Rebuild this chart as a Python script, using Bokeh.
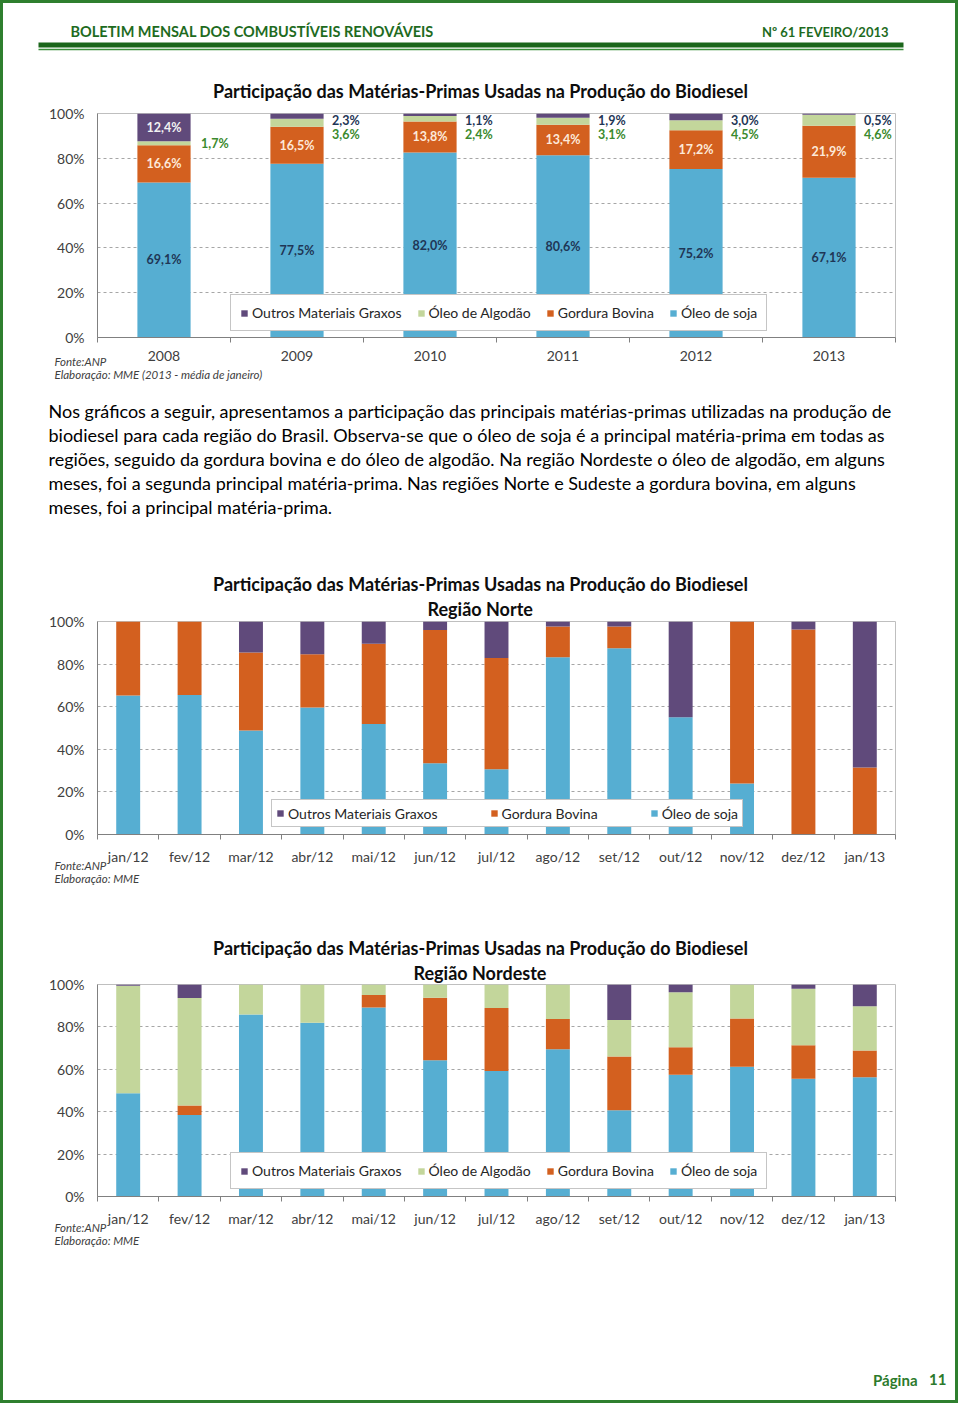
from bokeh.plotting import figure
from bokeh.layouts import column
from bokeh.models import Range1d, FixedTicker, Legend, LegendItem, ColumnDataSource, Title
from bokeh.core.properties import value
from bokeh.embed import file_html
from bokeh.resources import INLINE

FONT = "Lato"
W = 952
P0 = 3  # page x / y of the column content (inside the 3px border)

# ---------------- data ----------------
S_OUTROS = "Outros Materiais Graxos"
S_ALG = "Óleo de Algodão"
S_BOV = "Gordura Bovina"
S_SOJA = "Óleo de soja"

years = ["2008", "2009", "2010", "2011", "2012", "2013"]
br_soja = [69.1, 77.5, 82.0, 80.6, 75.2, 67.1]
br_bovina = [16.6, 16.5, 13.8, 13.4, 17.2, 21.9]
br_algodao = [1.7, 3.6, 2.4, 3.1, 4.5, 4.6]
br_outros = [12.4, 2.3, 1.1, 1.9, 3.0, 0.5]

months = ["jan/12", "fev/12", "mar/12", "abr/12", "mai/12", "jun/12", "jul/12",
          "ago/12", "set/12", "out/12", "nov/12", "dez/12", "jan/13"]
norte_soja = [65.2, 65.5, 48.8, 59.6, 51.9, 33.4, 30.6, 83.2, 87.5, 55.1, 24.0, 0.0, 0.0]
norte_bovina = [34.8, 34.5, 36.6, 25.0, 37.7, 62.6, 52.3, 14.5, 10.2, 0.0, 76.0, 96.3, 31.5]
norte_outros = [0.0, 0.0, 14.6, 15.4, 10.4, 4.0, 17.1, 2.3, 2.3, 44.9, 0.0, 3.7, 68.5]

ne_soja = [48.7, 38.5, 85.9, 82.0, 89.2, 64.3, 59.2, 69.5, 40.7, 57.4, 61.2, 55.6, 56.2]
ne_bovina = [0.0, 4.4, 0.0, 0.0, 5.9, 29.4, 29.7, 14.2, 25.3, 13.0, 22.8, 15.8, 12.7]
ne_algodao = [50.7, 50.7, 14.1, 18.0, 4.9, 6.3, 11.1, 16.3, 17.3, 26.0, 16.0, 26.6, 20.8]
ne_outros = [0.6, 6.4, 0.0, 0.0, 0.0, 0.0, 0.0, 0.0, 16.7, 3.6, 0.0, 2.0, 10.3]

TITLE = "Participação das Matérias-Primas Usadas na Produção do Biodiesel"
paragraph = [
    "Nos gráficos a seguir, apresentamos a participação das principais matérias-primas utilizadas na produção de",
    "biodiesel para cada região do Brasil. Observa-se que o óleo de soja é a principal matéria-prima em todas as",
    "regiões, seguido da gordura bovina e do óleo de algodão. Na região Nordeste o óleo de algodão, em alguns",
    "meses,  foi a segunda principal matéria-prima. Nas regiões Norte e Sudeste a gordura bovina, em alguns",
    "meses, foi a principal matéria-prima.",
]

# ---------------- styles ----------------
BLUE = "#56AED2"
ORANGE = "#D3601F"
PURPLE = "#604A7B"
LGREEN = "#C3D69B"
DKGREEN = "#1E6B1E"
TXT = "#404040"
NAVY = "#1F3656"
TITLE_SIZE = "18px"
COLORS = {S_OUTROS: PURPLE, S_ALG: LGREEN, S_BOV: ORANGE, S_SOJA: BLUE}


def fmt(v):
    return f"{v:.1f}".replace(".", ",") + "%"


def no_align(p):
    if "frame_align" in p.properties():
        p.frame_align = False
    return p


def blank_fig(top, bottom):
    h = bottom - top
    p = figure(width=W, height=h, x_range=Range1d(P0, P0 + W), y_range=Range1d(bottom, top),
               x_axis_type=None, y_axis_type=None, output_backend="svg",
               toolbar_location=None, min_border=0)
    p.outline_line_color = None
    p.grid.visible = False
    return no_align(p)


def title_text(p, x, y, text):
    p.text(x=[x], y=[y], text=[text], text_font=value(FONT), text_font_size=TITLE_SIZE,
           text_font_style="bold", text_color="#0D0D0D", text_align="center",
           text_baseline="middle")


def stacked_chart(cats, series, fig_top, fig_bottom, frame_top, frame_h, bar_w,
                  notes, leg_loc, leg_pad, leg_lh, leg_spacing, subtitle=None):
    n = len(cats)
    totals = [sum(s[1][i] for s in series) for i in range(n)]
    data = {"x": list(range(n))}
    keys = []
    for k, (name, vals) in enumerate(series):
        key = f"s{k}"
        data[key] = [100.0 * v / t for v, t in zip(vals, totals)]
        keys.append(key)
    src = ColumnDataSource(data)
    height = fig_bottom - fig_top
    top_b = frame_top - fig_top
    left_b = 97 - P0
    frame_w = 895 - 97
    p = figure(width=W, height=height, x_range=Range1d(-0.5, n - 0.5), y_range=Range1d(0, 100),
               output_backend="svg", toolbar_location=None,
               min_border_left=left_b, min_border_right=W - left_b - frame_w,
               min_border_top=top_b, min_border_bottom=height - top_b - frame_h)
    no_align(p)
    p.outline_line_color = "#BFBFBF"
    p.background_fill_color = "white"
    p.border_fill_color = "white"
    rs = p.vbar_stack(keys, x="x", width=bar_w, source=src,
                      fill_color=[COLORS[s[0]] for s in series], line_color=None)

    # axes
    xt = FixedTicker(ticks=list(range(n)), minor_ticks=[i - 0.5 for i in range(n + 1)])
    p.xaxis.ticker = xt
    p.xaxis.major_label_overrides = {i: c for i, c in enumerate(cats)}
    p.xaxis.major_tick_out = 0
    p.xaxis.major_tick_in = 0
    p.xaxis.minor_tick_out = 5
    p.xaxis.minor_tick_in = 0
    p.xaxis.minor_tick_line_color = "#808080"
    p.xaxis.axis_line_color = "#808080"
    p.xaxis.major_label_standoff = 8
    yt = FixedTicker(ticks=[0, 20, 40, 60, 80, 100])
    p.yaxis.ticker = yt
    p.ygrid.ticker = yt
    p.yaxis.major_label_overrides = {t: f"{t}%" for t in [0, 20, 40, 60, 80, 100]}
    p.yaxis.major_tick_out = 0
    p.yaxis.major_tick_in = 0
    p.yaxis.minor_tick_out = 0
    p.yaxis.minor_tick_in = 0
    p.yaxis.axis_line_color = "#808080"
    p.yaxis.major_label_standoff = 13
    for ax in (p.xaxis, p.yaxis):
        ax.major_label_text_font = FONT
        ax.major_label_text_font_size = "14px"
        ax.major_label_text_color = TXT
    p.xgrid.grid_line_color = None
    p.ygrid.grid_line_color = "#A6A6A6"
    p.ygrid.grid_line_dash = "3 3"

    # legend
    items = [LegendItem(label=s[0], renderers=[r]) for s, r in zip(series, rs)][::-1]
    leg = Legend(items=items, orientation="horizontal", location=leg_loc,
                 padding=leg_pad, label_height=leg_lh, spacing=leg_spacing,
                 glyph_width=8, glyph_height=8, label_standoff=4, margin=0,
                 label_text_font=FONT, label_text_font_size="14px", label_text_color="#262626",
                 border_line_color="#8C8C8C", border_line_width=1,
                 background_fill_color="white", background_fill_alpha=1)
    p.add_layout(leg, "center")

    # region subtitle just above the frame
    if subtitle is not None:
        text, offset, standoff = subtitle
        p.add_layout(Title(text=text, align="left", offset=offset, text_font=FONT,
                           text_font_size=TITLE_SIZE, text_font_style="bold",
                           text_color="#0D0D0D", standoff=standoff), "above")

    # source notes below the axis, starting left of the frame
    p.add_layout(Title(text="\n".join(notes), align="left", offset=54 - 97, text_font=FONT,
                       text_font_size="11.5px", text_font_style="italic",
                       text_color=TXT, standoff=-22), "below")
    return p, data


# ---------------- header + chart-1 title ----------------
hdr = blank_fig(P0, 104)
hdr.text(x=[70], y=[31], text=["BOLETIM MENSAL DOS COMBUSTÍVEIS RENOVÁVEIS"],
         text_font=value(FONT), text_font_size="14.5px", text_font_style="bold",
         text_color=DKGREEN, text_baseline="middle", text_align="left")
hdr.text(x=[888], y=[31], text=["Nº 61 FEVEIRO/2013"],
         text_font=value(FONT), text_font_size="13px", text_font_style="bold",
         text_color=DKGREEN, text_baseline="middle", text_align="right")
hdr.quad(left=[38], right=[903], top=[42], bottom=[47], fill_color="#1B661B", line_color=None)
hdr.quad(left=[38], right=[903], top=[48.3], bottom=[49.8], fill_color="#3A8E3A", line_color=None)
title_text(hdr, 480, 90, TITLE)

# ---------------- chart 1 (Brasil) ----------------
series1 = [(S_SOJA, br_soja), (S_BOV, br_bovina), (S_ALG, br_algodao), (S_OUTROS, br_outros)]
c1, d1 = stacked_chart(
    years, series1, fig_top=104, fig_bottom=394, frame_top=113, frame_h=224, bar_w=0.4,
    notes=["Fonte:ANP", "Elaboração: MME (2013 - média de janeiro)"],
    leg_loc=(133, 6), leg_pad=9, leg_lh=17, leg_spacing=15)

lab_x, lab_y, lab_t, lab_c, lab_xo, lab_al = [], [], [], [], [], []
for i in range(len(years)):
    s, b, a, o = d1["s0"][i], d1["s1"][i], d1["s2"][i], d1["s3"][i]
    lab_x += [i, i]
    lab_y += [s / 2, s + b / 2]
    lab_t += [fmt(br_soja[i]), fmt(br_bovina[i])]
    lab_c += [NAVY, "#FDE9D9"]
    lab_xo += [0, 0]
    lab_al += ["center", "center"]
    if br_outros[i] >= 5:
        lab_x += [i, i]
        lab_y += [100 - o / 2, s + b + a / 2]
        lab_t += [fmt(br_outros[i]), fmt(br_algodao[i])]
        lab_c += ["#F2F2F2", "#3B8A2E"]
        lab_xo += [0, 37]
        lab_al += ["center", "left"]
    else:
        lab_x += [i, i]
        lab_y += [97.0, 90.5]
        lab_t += [fmt(br_outros[i]), fmt(br_algodao[i])]
        lab_c += [NAVY, "#3B8A2E"]
        lab_xo += [35, 35]
        lab_al += ["left", "left"]
lsrc = ColumnDataSource(dict(x=lab_x, y=lab_y, t=lab_t, c=lab_c, xo=lab_xo, al=lab_al))
c1.text(x="x", y="y", text="t", text_color="c", x_offset="xo", text_align="al", source=lsrc,
        text_font=value(FONT), text_font_size="12.5px", text_font_style="bold",
        text_baseline="middle")

# ---------------- paragraph + Norte title ----------------
par = blank_fig(394, 593)
par.text(x=[48] * len(paragraph), y=[410 + 24 * k for k in range(len(paragraph))],
         text=paragraph, text_font=value(FONT), text_font_size="18px", text_color="#000000",
         text_baseline="middle", text_align="left")
title_text(par, 480, 583, TITLE)

# ---------------- chart Norte ----------------
series2 = [(S_SOJA, norte_soja), (S_BOV, norte_bovina), (S_OUTROS, norte_outros)]
c2, _ = stacked_chart(
    months, series2, fig_top=593, fig_bottom=892, frame_top=620, frame_h=214, bar_w=0.39,
    notes=["Fonte:ANP", "Elaboração: MME"],
    leg_loc=(174, 7), leg_pad=4, leg_lh=18, leg_spacing=52,
    subtitle=("Região Norte", 330, 4))

# ---------------- Nordeste title ----------------
mid = blank_fig(892, 958)
title_text(mid, 480, 947, TITLE)

# ---------------- chart Nordeste ----------------
series3 = [(S_SOJA, ne_soja), (S_BOV, ne_bovina), (S_ALG, ne_algodao), (S_OUTROS, ne_outros)]
c3, _ = stacked_chart(
    months, series3, fig_top=958, fig_bottom=1254, frame_top=983, frame_h=213, bar_w=0.39,
    notes=["Fonte:ANP", "Elaboração: MME"],
    leg_loc=(133, 7), leg_pad=9, leg_lh=17, leg_spacing=15,
    subtitle=("Região Nordeste", 316, 2))

# ---------------- footer ----------------
ftr = blank_fig(1254, 1400)
ftr.text(x=[917, 946], y=[1379, 1379], text=["Página", "11"],
         text_font=value(FONT), text_font_size="15px", text_font_style="bold",
         text_color="#2C7A2C", text_baseline="middle", text_align="right")

layout = column(hdr, c1, par, c2, mid, c3, ftr, spacing=0,
                styles={"border": "3px solid #2F7F2F", "background-color": "white"})

open("out.html", "w").write(file_html(layout, INLINE))
